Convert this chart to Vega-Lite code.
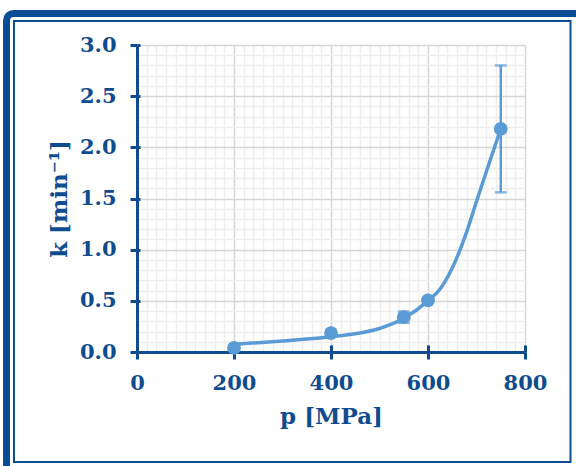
{
  "$schema": "https://vega.github.io/schema/vega-lite/v6.json",
  "width": 388,
  "height": 307,
  "autosize": {"type": "none"},
  "padding": {"left": 137, "top": 45, "right": 51, "bottom": 114},
  "background": "#FFFFFF",
  "datasets": {
    "obs": [
      {"p": 200, "k": 0.04, "lo": null, "hi": null},
      {"p": 400, "k": 0.185, "lo": null, "hi": null},
      {"p": 550, "k": 0.34, "lo": 0.285, "hi": 0.395},
      {"p": 600, "k": 0.505, "lo": null, "hi": null},
      {"p": 750, "k": 2.18, "lo": 1.56, "hi": 2.8}
    ],
    "fit": [
      {"p": 200, "k": 0.075},
      {"p": 250, "k": 0.091},
      {"p": 300, "k": 0.108},
      {"p": 350, "k": 0.127},
      {"p": 400, "k": 0.15},
      {"p": 450, "k": 0.178},
      {"p": 500, "k": 0.23},
      {"p": 550, "k": 0.33},
      {"p": 600, "k": 0.5},
      {"p": 625, "k": 0.615},
      {"p": 650, "k": 0.82},
      {"p": 675, "k": 1.11},
      {"p": 700, "k": 1.47},
      {"p": 725, "k": 1.83},
      {"p": 750, "k": 2.18}
    ]
  },
  "layer": [
    {
      "data": {"name": "fit"},
      "mark": {"type": "line", "interpolate": "monotone", "color": "#5B9BD5", "strokeWidth": 3.5},
      "encoding": {
        "x": {
          "field": "p", "type": "quantitative",
          "scale": {"domain": [0, 800], "nice": false, "zero": false},
          "axis": {
            "orient": "bottom",
            "values": [0,20,40,60,80,100,120,140,160,180,200,220,240,260,280,300,320,340,360,380,400,420,440,460,480,500,520,540,560,580,600,620,640,660,680,700,720,740,760,780,800],
            "grid": true,
            "gridColor": {"condition": {"test": "datum.value % 200 === 0", "value": "#D6D6D6"}, "value": "#EEEEEE"},
            "gridWidth": 1.5,
            "domainColor": "#0F4C8F", "domainWidth": 3,
            "tickColor": "#0F4C8F", "tickWidth": 3, "tickSize": 7,
            "tickOpacity": {"condition": {"test": "datum.value % 200 !== 0", "value": 0}, "value": 1},
            "labelExpr": "datum.value % 200 === 0 ? datum.label : ''",
            "labelOverlap": false, "labelFlush": false,
            "labelFont": "DejaVu Serif", "labelFontWeight": "bold", "labelFontSize": 21,
            "labelColor": "#0F4C8F", "labelPadding": 13,
            "title": "p [MPa]",
            "titleFont": "DejaVu Serif", "titleFontWeight": "bold", "titleFontSize": 23,
            "titleColor": "#0F4C8F", "titlePadding": 12
          }
        },
        "y": {
          "field": "k", "type": "quantitative",
          "scale": {"domain": [0, 3], "nice": false},
          "axis": {
            "orient": "left",
            "values": [0,0.1,0.2,0.3,0.4,0.5,0.6,0.7,0.8,0.9,1,1.1,1.2,1.3,1.4,1.5,1.6,1.7,1.8,1.9,2,2.1,2.2,2.3,2.4,2.5,2.6,2.7,2.8,2.9,3],
            "format": ".1f",
            "grid": true,
            "gridColor": {"condition": {"test": "round(datum.value * 10) % 5 === 0", "value": "#D6D6D6"}, "value": "#EEEEEE"},
            "gridWidth": 1.5,
            "domainColor": "#0F4C8F", "domainWidth": 3,
            "tickColor": "#0F4C8F", "tickWidth": 3, "tickSize": 7,
            "tickOpacity": {"condition": {"test": "round(datum.value * 10) % 5 !== 0", "value": 0}, "value": 1},
            "labelExpr": "round(datum.value * 10) % 5 === 0 ? datum.label : ''",
            "labelOverlap": false, "labelFlush": false,
            "labelFont": "DejaVu Serif", "labelFontWeight": "bold", "labelFontSize": 21,
            "labelColor": "#0F4C8F", "labelPadding": 14,
            "title": "k [min⁻¹]",
            "titleFont": "DejaVu Serif", "titleFontWeight": "bold", "titleFontSize": 23,
            "titleColor": "#0F4C8F", "titlePadding": 8
          }
        }
      }
    },
    {
      "data": {"name": "obs"},
      "transform": [{"filter": "isValid(datum.lo)"}],
      "mark": {"type": "rule", "color": "#5B9BD5", "strokeWidth": 2.5},
      "encoding": {
        "x": {
          "field": "p", "type": "quantitative",
          "scale": {"domain": [0, 800], "nice": false, "zero": false},
          "axis": {
            "orient": "bottom", "values": [0, 200, 400, 600, 800],
            "grid": false, "domain": false, "labels": false, "title": null,
            "ticks": true, "tickSize": -7, "tickWidth": 3, "tickColor": "#0F4C8F"
          }
        },
        "y": {
          "field": "lo", "type": "quantitative",
          "scale": {"domain": [0, 3], "nice": false},
          "axis": {
            "orient": "left", "values": [0, 0.5, 1, 1.5, 2, 2.5, 3],
            "grid": false, "domain": false, "labels": false, "title": null,
            "ticks": true, "tickSize": -3, "tickWidth": 3, "tickColor": "#0F4C8F"
          }
        },
        "y2": {"field": "hi"}
      }
    },
    {
      "data": {"name": "obs"},
      "transform": [
        {"filter": "isValid(datum.lo)"},
        {"fold": ["lo", "hi"], "as": ["end", "kv"]}
      ],
      "mark": {"type": "tick", "orient": "horizontal", "color": "#5B9BD5", "size": 12, "thickness": 2.5},
      "encoding": {
        "x": {"field": "p", "type": "quantitative", "scale": {"domain": [0, 800], "nice": false, "zero": false}, "axis": null},
        "y": {"field": "kv", "type": "quantitative", "scale": {"domain": [0, 3], "nice": false}, "axis": null}
      }
    },
    {
      "data": {"name": "obs"},
      "mark": {"type": "circle", "color": "#5B9BD5", "size": 190, "opacity": 1},
      "encoding": {
        "x": {"field": "p", "type": "quantitative", "scale": {"domain": [0, 800], "nice": false, "zero": false}, "axis": null},
        "y": {"field": "k", "type": "quantitative", "scale": {"domain": [0, 3], "nice": false}, "axis": null}
      }
    },
    {
      "data": {"values": [{}]},
      "mark": {"type": "rect", "fill": null, "stroke": "#0B4D94", "strokeWidth": 7, "cornerRadius": 7},
      "encoding": {
        "x": {"value": -130.5},
        "x2": {"value": 460},
        "y": {"value": -31.5},
        "y2": {"value": 440}
      }
    },
    {
      "data": {"values": [{}]},
      "mark": {"type": "rect", "fill": null, "stroke": "#0B4D94", "strokeWidth": 2},
      "encoding": {
        "x": {"value": -123},
        "x2": {"value": 433.5},
        "y": {"value": -24},
        "y2": {"value": 417}
      }
    }
  ],
  "resolve": {"axis": {"x": "independent", "y": "independent"}},
  "config": {
    "view": {"stroke": null}
  }
}
